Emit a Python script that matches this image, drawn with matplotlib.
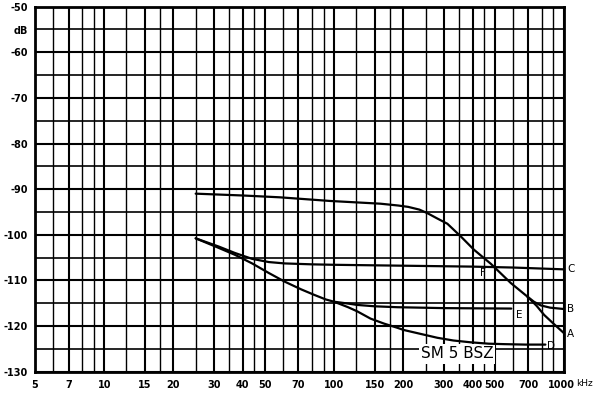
import matplotlib
matplotlib.use('Agg')
import matplotlib.pyplot as plt
from matplotlib.transforms import ScaledTranslation

# ---- axis data ----
freq_ticks = [5, 7, 10, 15, 20, 30, 40, 50, 70, 100, 150, 200, 300, 400, 500, 700, 1000]
freq_tick_labels = ['5', '7', '10', '15', '20', '30', '40', '50', '70', '100', '150',
                    '200', '300', '400', '500', '700', '1000']
freq_grid_minor = [6, 8, 9, 12.5, 17.5, 25, 35, 45, 60, 80, 90, 125, 175, 250, 350,
                   450, 600, 800, 900]
db_ticks = [-130, -120, -110, -100, -90, -80, -70, -60, -55, -50]
db_tick_labels = ['-130', '-120', '-110', '-100', '-90', '-80', '-70', '-60', 'dB', '-50']
db_grid = list(range(-130, -49, 5))

# ---- curves ----
top_f = [25, 40, 58, 96, 159, 190, 210, 235, 255, 280, 311, 356, 406, 481, 587, 694]
top_db = [-91.0, -91.4, -91.8, -92.6, -93.2, -93.6, -93.9, -94.5, -95.3, -96.4, -97.6,
          -100.4, -103.3, -106.4, -110.6, -113.6]
a_f = [694, 760, 820, 900, 1000]
a_db = [-113.6, -115.6, -117.6, -119.5, -121.6]
b_f = [694, 740, 792, 870, 1000]
b_db = [-113.6, -114.7, -115.5, -116.0, -116.3]
c_f = [25, 31.5, 37, 44, 52, 61, 80, 100, 200, 400, 600, 1000]
c_db = [-100.8, -102.6, -104.0, -105.3, -106.0, -106.3, -106.5, -106.6, -106.8, -107.0,
        -107.2, -107.6]
low_f = [25, 31.5, 37, 44, 52, 61, 72, 82, 92, 100]
low_db = [-100.8, -102.9, -104.4, -106.3, -108.4, -110.3, -112.0, -113.2, -114.2, -114.7]
e_f = [100, 115, 126, 150, 188, 300, 590]
e_db = [-114.7, -115.1, -115.4, -115.7, -115.9, -116.1, -116.2]
d_f = [100, 115, 126, 144, 165, 188, 201, 240, 281, 330, 393, 470, 549, 680, 830]
d_db = [-114.7, -115.9, -116.8, -118.4, -119.5, -120.4, -120.9, -121.8, -122.6, -123.2,
        -123.6, -123.9, -124.0, -124.1, -124.1]

curve_labels = ['A', 'B', 'C', 'D', 'E', 'F']
label_pos = [(1030, -121.8), (1030, -116.2), (1030, -107.6), (840, -124.4),
             (620, -117.5), (430, -108.3)]

fig = plt.figure(figsize=(5.98, 3.94), dpi=100)
ax = fig.add_axes([35 / 598, 1 - 371.5 / 394, (564 - 35) / 598, (371.5 - 6.7) / 394])
ax.set_xscale('log')
ax.set_xlim(5, 1000)
ax.set_ylim(-130, -50)

# grid
for f in freq_ticks:
    ax.axvline(f, color='black', lw=1.5, zorder=1)
for f in freq_grid_minor:
    ax.axvline(f, color='black', lw=1.0, zorder=1)
for d in db_grid:
    ax.axhline(d, color='black', lw=1.5 if d % 10 == 0 else 1.2, zorder=1)

kw = dict(color='black', lw=1.6, zorder=3, solid_capstyle='round', solid_joinstyle='round')
ax.plot(top_f, top_db, **kw)
ax.plot(a_f, a_db, **kw)
ax.plot(b_f, b_db, **kw)
ax.plot(c_f, c_db, **kw)
ax.plot(low_f, low_db, **kw)
ax.plot(e_f, e_db, **kw)
ax.plot(d_f, d_db, **kw)

for lab, (x, y) in zip(curve_labels, label_pos):
    ax.text(x, y, lab, fontsize=7.5, ha='left', va='center', family='DejaVu Sans',
            clip_on=False, zorder=5)

ax.text((457 - 35) / 529, (371.5 - 354) / 364.8, 'SM 5 BSZ', transform=ax.transAxes,
        fontsize=11, family='DejaVu Sans', ha='center', va='center', zorder=2,
        bbox=dict(facecolor='white', edgecolor='none', pad=1.5))

ax.set_xticks(freq_ticks)
ax.set_xticklabels(freq_tick_labels)
ax.minorticks_off()
ax.set_yticks(db_ticks)
ax.set_yticklabels(db_tick_labels)
ax.tick_params(length=0, labelsize=7, pad=5)
for t in ax.get_xticklabels() + ax.get_yticklabels():
    t.set_fontweight('bold')
ax.tick_params(axis='x', pad=6)
# nudge the last x label slightly left so "kHz" fits beside it
last = ax.get_xticklabels()[-1]
last.set_transform(last.get_transform() + ScaledTranslation(-3 / 100, 0, fig.dpi_scale_trans))

for s in ax.spines.values():
    s.set_linewidth(2.0)
    s.set_color('black')

fig.text(576 / 598, 1 - 383 / 394, 'kHz', fontsize=6.5, ha='left', va='center')

fig.savefig('out.png', dpi=100)
